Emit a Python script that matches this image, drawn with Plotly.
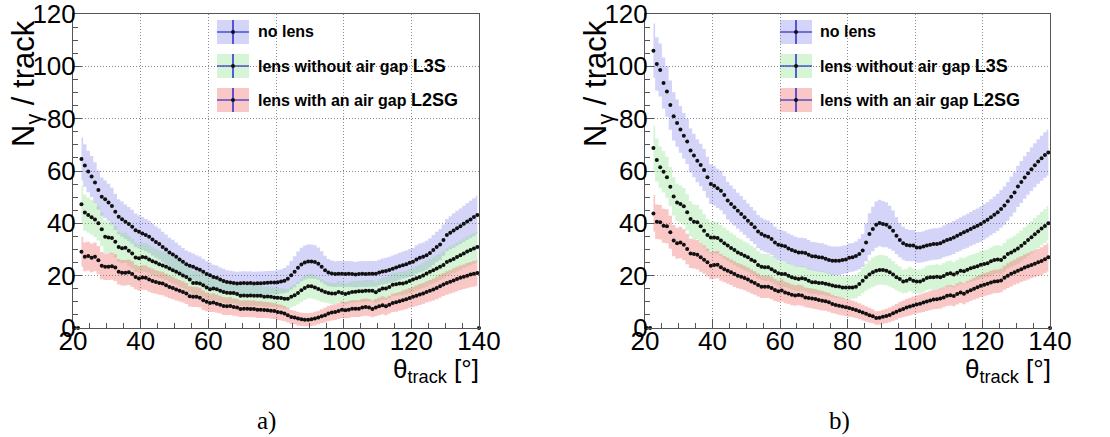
import plotly.graph_objects as go

W, H = 1110, 437

# Bin centres (1 degree bins) of the polar-angle scan
THETA = [22.5 + i for i in range(118)]

# Empty edge bins drawn at N = 0
EDGE_THETA = [20.5, 21.5, 140.0]
EDGE_N = [0, 0, 0]

# ---- panel a) photon yield per track and band half-width ----
a_no_lens = [
    64.6, 62.1, 59.8, 57.9, 55.6, 52.7, 50.2, 49.2, 48.0, 46.6,
    44.4, 42.5, 41.6, 40.6, 39.7, 38.7, 37.4, 36.8, 36.1, 35.5,
    34.9, 33.8, 32.9, 32.1, 31.0, 30.0, 28.9, 28.1, 27.2, 26.2,
    25.3, 24.4, 23.8, 23.4, 22.7, 22.3, 21.5, 20.6, 20.2, 19.5,
    19.2, 18.5, 18.0, 17.6, 17.4, 17.2, 17.0, 17.1, 17.2, 17.1,
    17.2, 17.0, 17.1, 17.1, 17.2, 17.3, 17.4, 17.4, 17.5, 17.8,
    18.1, 18.8, 20.2, 21.5, 23.0, 24.3, 25.0, 25.4, 25.4, 25.2,
    24.6, 23.4, 22.1, 21.2, 20.8, 20.6, 20.7, 20.7, 20.6, 20.7,
    20.6, 20.4, 20.6, 20.7, 20.6, 20.7, 20.7, 20.7, 21.2, 21.6,
    21.8, 22.2, 22.6, 23.1, 23.6, 24.0, 24.4, 24.9, 25.3, 26.2,
    26.8, 27.2, 27.8, 28.7, 29.8, 31.0, 31.9, 33.6, 35.5, 36.4,
    37.3, 38.1, 38.9, 39.8, 40.7, 41.5, 42.4, 43.2,
]
a_no_lens_err = [
    8.2, 8.1, 7.9, 7.8, 7.7, 7.5, 7.3, 7.2, 7.1, 7.0,
    6.9, 6.7, 6.7, 6.6, 6.5, 6.5, 6.4, 6.3, 6.3, 6.2,
    6.2, 6.1, 6.0, 5.9, 5.8, 5.7, 5.6, 5.6, 5.5, 5.4,
    5.3, 5.2, 5.2, 5.1, 5.1, 5.0, 4.9, 4.9, 4.8, 4.7,
    4.7, 4.6, 4.6, 4.5, 4.5, 4.5, 4.5, 4.5, 4.5, 4.5,
    4.5, 4.5, 4.5, 4.5, 4.5, 4.5, 4.5, 4.5, 4.6, 4.6,
    4.8, 5.1, 5.5, 5.9, 6.2, 6.4, 6.5, 6.5, 6.5, 6.4,
    6.2, 5.9, 5.5, 5.2, 5.0, 4.9, 4.9, 4.9, 4.9, 4.9,
    4.9, 4.8, 4.9, 4.9, 4.9, 4.9, 4.9, 4.9, 4.9, 5.0,
    5.0, 5.0, 5.1, 5.1, 5.2, 5.2, 5.2, 5.3, 5.3, 5.4,
    5.5, 5.5, 5.5, 5.6, 5.7, 5.8, 5.9, 6.0, 6.2, 6.3,
    6.6, 6.7, 6.8, 6.9, 7.0, 7.1, 7.2, 7.3,
]
a_l3s = [
    47.3, 44.1, 43.2, 42.3, 41.5, 40.0, 37.7, 34.9, 34.6, 34.4,
    33.0, 31.0, 30.5, 30.7, 29.5, 28.5, 26.9, 26.7, 27.1, 26.9,
    26.2, 25.5, 25.0, 24.4, 23.9, 23.4, 22.7, 22.1, 21.5, 20.8,
    20.1, 19.5, 18.5, 17.2, 17.2, 17.0, 16.3, 15.5, 14.8, 15.1,
    14.8, 14.2, 13.8, 13.5, 13.4, 13.4, 13.0, 12.3, 12.4, 12.3,
    12.4, 12.3, 12.3, 12.3, 11.9, 12.0, 11.9, 11.7, 11.6, 11.5,
    11.2, 11.2, 11.9, 12.5, 13.4, 14.4, 15.3, 16.0, 16.0, 15.5,
    14.9, 14.3, 13.8, 13.4, 13.2, 13.2, 13.8, 13.4, 13.0, 13.4,
    13.8, 13.9, 14.0, 14.0, 14.2, 14.2, 14.2, 13.7, 14.4, 15.1,
    15.1, 15.7, 16.5, 16.7, 17.0, 17.0, 17.4, 18.0, 18.5, 19.0,
    19.5, 20.1, 20.8, 21.5, 22.1, 22.7, 23.4, 24.1, 25.2, 25.8,
    26.4, 27.1, 27.8, 28.5, 29.2, 29.8, 30.4, 31.0,
]
a_l3s_err = [
    7.1, 6.9, 6.8, 6.7, 6.7, 6.6, 6.4, 6.2, 6.1, 6.1,
    6.0, 5.8, 5.8, 5.8, 5.7, 5.6, 5.5, 5.4, 5.5, 5.5,
    5.4, 5.3, 5.3, 5.2, 5.2, 5.1, 5.1, 5.0, 4.9, 4.9,
    4.8, 4.7, 4.6, 4.5, 4.5, 4.5, 4.4, 4.3, 4.2, 4.3,
    4.2, 4.1, 4.1, 4.1, 4.0, 4.0, 4.0, 3.9, 3.9, 3.9,
    3.9, 3.9, 3.9, 3.9, 3.9, 3.9, 3.9, 3.8, 3.8, 3.8,
    3.8, 3.8, 4.0, 4.1, 4.3, 4.5, 4.6, 4.7, 4.7, 4.6,
    4.4, 4.3, 4.1, 4.0, 4.0, 4.0, 4.1, 4.0, 4.0, 4.0,
    4.1, 4.1, 4.1, 4.1, 4.1, 4.1, 4.1, 4.1, 4.2, 4.3,
    4.3, 4.3, 4.4, 4.4, 4.5, 4.5, 4.5, 4.6, 4.6, 4.7,
    4.7, 4.8, 4.9, 4.9, 5.0, 5.1, 5.1, 5.2, 5.3, 5.4,
    5.4, 5.5, 5.6, 5.6, 5.7, 5.8, 5.8, 5.9,
]
a_l2sg = [
    29.1, 27.2, 27.5, 26.8, 27.2, 25.9, 23.8, 23.4, 23.4, 23.6,
    23.1, 21.5, 21.1, 21.1, 21.3, 20.6, 19.5, 18.9, 19.3, 19.2,
    18.5, 18.0, 17.6, 17.2, 17.0, 16.3, 15.7, 15.3, 14.7, 14.2,
    13.8, 13.2, 12.1, 11.9, 11.9, 11.6, 10.6, 10.0, 9.6, 9.7,
    9.3, 8.9, 8.4, 8.3, 8.4, 8.0, 7.8, 7.3, 7.4, 7.4,
    7.3, 7.3, 7.0, 7.0, 6.9, 6.8, 6.6, 6.5, 6.1, 5.9,
    5.5, 4.9, 4.2, 4.0, 3.6, 3.3, 3.2, 3.2, 3.3, 3.6,
    4.0, 4.5, 4.9, 5.5, 5.9, 6.1, 6.5, 7.0, 6.8, 7.0,
    7.4, 7.4, 7.4, 7.8, 8.0, 7.8, 7.3, 7.8, 8.3, 8.7,
    8.3, 8.9, 9.6, 9.8, 10.2, 10.6, 11.0, 11.5, 11.9, 12.3,
    12.8, 13.2, 13.8, 14.2, 14.7, 15.3, 16.0, 16.6, 17.2, 17.7,
    18.2, 18.7, 19.2, 19.6, 20.0, 20.4, 20.7, 21.0,
]
a_l2sg_err = [
    5.7, 5.5, 5.5, 5.5, 5.5, 5.4, 5.2, 5.1, 5.1, 5.2,
    5.1, 4.9, 4.9, 4.9, 4.9, 4.9, 4.7, 4.7, 4.7, 4.7,
    4.6, 4.6, 4.5, 4.5, 4.5, 4.4, 4.3, 4.3, 4.2, 4.1,
    4.1, 4.0, 3.9, 3.9, 3.9, 3.8, 3.7, 3.6, 3.5, 3.6,
    3.5, 3.4, 3.4, 3.4, 3.4, 3.3, 3.3, 3.2, 3.2, 3.2,
    3.2, 3.2, 3.2, 3.2, 3.1, 3.1, 3.1, 3.1, 3.0, 3.0,
    2.9, 2.8, 2.7, 2.6, 2.6, 2.5, 2.5, 2.5, 2.5, 2.6,
    2.6, 2.7, 2.8, 2.9, 3.0, 3.0, 3.1, 3.2, 3.1, 3.2,
    3.2, 3.2, 3.2, 3.3, 3.3, 3.3, 3.2, 3.3, 3.4, 3.4,
    3.4, 3.4, 3.5, 3.6, 3.6, 3.7, 3.7, 3.8, 3.9, 3.9,
    4.0, 4.0, 4.1, 4.1, 4.2, 4.3, 4.4, 4.4, 4.5, 4.5,
    4.6, 4.7, 4.7, 4.7, 4.8, 4.8, 4.9, 4.9,
]

# ---- panel b) ----
b_no_lens = [
    106.0, 100.9, 98.6, 93.6, 90.4, 85.2, 80.9, 78.3, 75.9, 73.5,
    71.3, 67.8, 65.9, 63.9, 62.3, 60.4, 57.6, 55.0, 54.4, 53.4,
    52.5, 50.8, 48.7, 47.4, 46.1, 44.8, 43.6, 42.3, 41.0, 39.7,
    38.5, 36.9, 35.9, 35.3, 34.9, 34.0, 32.7, 31.8, 31.5, 31.2,
    30.4, 29.8, 29.3, 28.9, 28.9, 28.7, 28.0, 27.4, 27.3, 27.0,
    26.9, 26.5, 26.0, 25.7, 25.7, 25.7, 26.0, 26.2, 26.8, 27.0,
    27.5, 28.3, 29.6, 32.7, 35.9, 37.8, 39.5, 40.1, 39.7, 39.5,
    38.5, 37.2, 35.3, 33.6, 32.4, 31.7, 31.5, 31.5, 30.8, 30.8,
    31.1, 31.5, 31.8, 32.1, 32.1, 32.4, 33.1, 33.6, 34.0, 34.6,
    35.3, 35.9, 36.6, 37.2, 37.8, 38.5, 39.1, 39.7, 40.6, 41.4,
    42.3, 43.3, 44.2, 45.5, 46.8, 48.4, 50.2, 51.8, 54.1, 55.8,
    57.5, 59.1, 60.7, 62.2, 63.6, 64.9, 66.1, 67.1,
]
b_no_lens_err = [
    10.4, 10.2, 10.1, 9.8, 9.7, 9.4, 9.2, 9.0, 8.9, 8.7,
    8.6, 8.4, 8.3, 8.2, 8.1, 8.0, 7.8, 7.6, 7.6, 7.5,
    7.5, 7.3, 7.2, 7.1, 7.0, 6.9, 6.8, 6.7, 6.6, 6.5,
    6.4, 6.3, 6.2, 6.2, 6.2, 6.1, 6.0, 5.9, 5.9, 5.8,
    5.8, 5.7, 5.7, 5.6, 5.6, 5.6, 5.6, 5.5, 5.5, 5.5,
    5.5, 5.4, 5.4, 5.4, 5.4, 5.4, 5.4, 5.4, 5.5, 5.5,
    5.6, 5.8, 6.3, 7.2, 8.0, 8.5, 8.8, 8.9, 8.8, 8.6,
    8.2, 7.7, 7.1, 6.6, 6.3, 6.1, 6.0, 6.0, 5.9, 5.9,
    5.9, 6.0, 6.0, 6.0, 6.0, 6.0, 6.1, 6.2, 6.2, 6.3,
    6.3, 6.4, 6.4, 6.5, 6.5, 6.6, 6.6, 6.7, 6.8, 6.8,
    6.9, 7.0, 7.1, 7.2, 7.3, 7.4, 7.6, 7.7, 7.9, 8.0,
    8.1, 8.2, 8.3, 8.4, 8.5, 8.6, 8.7, 8.8,
]
b_l3s = [
    68.8, 64.2, 61.4, 59.7, 57.6, 54.0, 50.3, 48.0, 47.4, 46.5,
    44.2, 41.7, 40.6, 40.4, 38.9, 37.2, 35.5, 34.6, 34.6, 34.4,
    33.4, 32.4, 31.5, 30.6, 29.8, 28.9, 28.3, 27.6, 27.0, 26.1,
    25.5, 24.1, 23.4, 23.2, 23.2, 22.5, 21.7, 20.9, 20.6, 20.6,
    20.0, 19.4, 19.0, 18.7, 19.0, 18.7, 18.1, 17.5, 17.5, 17.2,
    17.2, 16.9, 16.6, 16.2, 16.0, 15.9, 15.5, 15.5, 15.5, 15.5,
    15.8, 16.8, 18.1, 19.4, 20.4, 21.3, 21.9, 22.2, 22.2, 21.9,
    21.3, 20.4, 19.4, 18.7, 17.8, 18.1, 18.7, 18.1, 17.8, 17.8,
    18.3, 19.1, 19.4, 19.4, 19.6, 19.4, 19.9, 20.6, 20.9, 20.4,
    21.1, 21.9, 21.7, 22.3, 22.8, 23.2, 23.6, 24.2, 24.5, 24.7,
    25.5, 26.0, 26.2, 26.0, 27.0, 28.3, 28.9, 29.6, 30.4, 31.4,
    32.5, 33.6, 34.7, 35.8, 36.9, 38.0, 39.0, 40.0,
]
b_l3s_err = [
    8.5, 8.2, 8.0, 7.9, 7.8, 7.5, 7.3, 7.1, 7.1, 7.0,
    6.9, 6.7, 6.6, 6.6, 6.5, 6.3, 6.2, 6.1, 6.1, 6.1,
    6.0, 6.0, 5.9, 5.8, 5.7, 5.6, 5.6, 5.5, 5.5, 5.4,
    5.3, 5.2, 5.1, 5.1, 5.1, 5.0, 5.0, 4.9, 4.9, 4.9,
    4.8, 4.7, 4.7, 4.7, 4.7, 4.7, 4.6, 4.5, 4.5, 4.5,
    4.5, 4.5, 4.4, 4.4, 4.4, 4.3, 4.3, 4.3, 4.3, 4.3,
    4.4, 4.6, 4.9, 5.2, 5.4, 5.6, 5.7, 5.7, 5.7, 5.6,
    5.4, 5.2, 5.0, 4.8, 4.6, 4.6, 4.7, 4.6, 4.6, 4.6,
    4.6, 4.7, 4.7, 4.7, 4.8, 4.7, 4.8, 4.9, 4.9, 4.8,
    4.9, 5.0, 5.0, 5.0, 5.1, 5.1, 5.2, 5.2, 5.2, 5.3,
    5.3, 5.4, 5.4, 5.4, 5.5, 5.6, 5.6, 5.7, 5.8, 5.9,
    6.0, 6.0, 6.1, 6.2, 6.3, 6.4, 6.5, 6.6,
]
b_l2sg = [
    43.8, 40.6, 40.4, 39.1, 38.9, 36.6, 33.4, 32.4, 32.7, 31.8,
    30.2, 28.5, 28.3, 28.0, 27.0, 26.1, 25.1, 23.8, 24.1, 24.2,
    23.2, 22.5, 21.9, 21.3, 20.6, 20.0, 19.6, 19.1, 18.5, 17.8,
    17.2, 16.4, 15.8, 15.8, 15.8, 15.3, 14.5, 14.0, 14.3, 13.6,
    13.2, 12.7, 12.4, 12.6, 12.4, 11.7, 11.5, 11.3, 11.1, 10.7,
    10.4, 10.2, 9.8, 9.2, 8.8, 8.5, 8.2, 7.9, 7.6, 7.3,
    6.9, 6.4, 5.9, 5.4, 4.9, 4.5, 3.8, 3.9, 4.3, 4.6,
    5.0, 5.6, 6.2, 6.8, 7.3, 7.8, 8.2, 8.6, 9.0, 9.3,
    9.7, 10.1, 10.5, 10.9, 11.0, 11.3, 11.7, 12.3, 12.5, 12.2,
    13.0, 13.6, 13.1, 13.9, 14.4, 15.0, 15.6, 16.1, 16.5, 16.9,
    17.4, 17.8, 17.9, 18.2, 19.2, 20.0, 20.7, 21.3, 21.9, 22.5,
    23.1, 23.6, 24.1, 24.6, 25.1, 25.6, 26.3, 27.0,
]
b_l2sg_err = [
    6.9, 6.6, 6.6, 6.5, 6.5, 6.3, 6.0, 5.9, 6.0, 5.9,
    5.8, 5.6, 5.6, 5.6, 5.5, 5.4, 5.3, 5.2, 5.2, 5.2,
    5.1, 5.0, 5.0, 4.9, 4.9, 4.8, 4.8, 4.7, 4.6, 4.6,
    4.5, 4.4, 4.3, 4.3, 4.3, 4.3, 4.2, 4.1, 4.2, 4.1,
    4.0, 4.0, 3.9, 3.9, 3.9, 3.8, 3.8, 3.8, 3.8, 3.7,
    3.7, 3.6, 3.6, 3.5, 3.4, 3.4, 3.4, 3.3, 3.3, 3.2,
    3.1, 3.1, 3.0, 2.9, 2.8, 2.7, 2.6, 2.6, 2.7, 2.8,
    2.8, 2.9, 3.0, 3.1, 3.2, 3.3, 3.4, 3.4, 3.5, 3.5,
    3.6, 3.6, 3.7, 3.7, 3.7, 3.8, 3.8, 3.9, 3.9, 3.9,
    4.0, 4.0, 4.0, 4.1, 4.1, 4.2, 4.3, 4.3, 4.4, 4.4,
    4.5, 4.5, 4.5, 4.5, 4.6, 4.7, 4.8, 4.8, 4.9, 4.9,
    5.0, 5.1, 5.1, 5.2, 5.2, 5.3, 5.4, 5.4,
]

LEGEND_LABELS = [
    "no lens",
    "lens without air gap",
    "lens with an air gap",
]
LEGEND_TAGS = ["", "L3S", "L2SG"]
BAND_FILLS = [
    "rgba(120,120,235,0.32)",
    "rgba(120,220,120,0.30)",
    "rgba(240,100,100,0.36)",
]
CROSS_COLOR = "#2a2ac8"
DOT_COLOR = "#111111"
TICK_FONT = "Liberation Sans"


def px(x):
    return x / W


def py(y):
    return 1 - y / H


fig = go.Figure()

panels = [
    ("x", "y", [(a_no_lens, a_no_lens_err), (a_l3s, a_l3s_err), (a_l2sg, a_l2sg_err)]),
    ("x2", "y2", [(b_no_lens, b_no_lens_err), (b_l3s, b_l3s_err), (b_l2sg, b_l2sg_err)]),
]

for xa, ya, series in panels:
    # uncertainty bands, one box per bin
    for (vals, errs), fill in zip(series, BAND_FILLS):
        lo = [v - e for v, e in zip(vals, errs)]
        hi = [v + e for v, e in zip(vals, errs)]
        fig.add_trace(go.Scatter(
            x=THETA, y=lo, xaxis=xa, yaxis=ya, mode="lines",
            line=dict(width=0, shape="hvh"), hoverinfo="skip", showlegend=False,
        ))
        fig.add_trace(go.Scatter(
            x=THETA, y=hi, xaxis=xa, yaxis=ya, mode="lines",
            line=dict(width=0, shape="hvh"), fill="tonexty", fillcolor=fill,
            hoverinfo="skip", showlegend=False,
        ))
    # mean photon yield per bin
    for vals, _ in series:
        fig.add_trace(go.Scatter(
            x=THETA, y=vals, xaxis=xa, yaxis=ya, mode="markers",
            marker=dict(size=4, color=DOT_COLOR), showlegend=False,
        ))
    fig.add_trace(go.Scatter(
        x=EDGE_THETA, y=EDGE_N, xaxis=xa, yaxis=ya, mode="markers",
        marker=dict(size=4, color=DOT_COLOR), cliponaxis=False, showlegend=False,
    ))

axis_style = dict(
    automargin=False,
    showline=True, mirror=True, linecolor="#555555", linewidth=1,
    ticks="inside", ticklen=9, tickwidth=1, tickcolor="#555555",
    showgrid=True, gridcolor="#8a8a8a", griddash="1px,2px", gridwidth=1,
    zeroline=False, ticklabeloverflow="allow",
    tickfont=dict(family=TICK_FONT, size=26, color="black"),
    minor=dict(ticks="inside", ticklen=5, dtick=5, tickcolor="#555555",
               tickwidth=1, showgrid=False),
)

XDOM_A = [px(73), px(479)]
XDOM_B = [px(645), px(1050)]
YDOM = [py(328), py(14)]

x_style = dict(range=[20, 140], tick0=20, dtick=20, ticklabelstandoff=-10, **axis_style)
y_style = dict(domain=YDOM, range=[0, 120], tick0=0, dtick=20, ticklabelstandoff=-9, **axis_style)

fig.update_layout(
    width=W, height=H,
    margin=dict(l=0, r=0, t=0, b=0, autoexpand=False),
    paper_bgcolor="white", plot_bgcolor="white",
    showlegend=False,
    xaxis=dict(domain=XDOM_A, anchor="y", **x_style),
    yaxis=dict(anchor="x", **y_style),
    xaxis2=dict(domain=XDOM_B, anchor="y2", **x_style),
    yaxis2=dict(anchor="x2", **y_style),
)

shapes = []
annotations = []

for off, swatch_x0, text_x, label, label_x in [
    (0, 217, 256, "a)", 266),
    (572, 780, 818, "b)", 839),
]:
    # axis titles
    annotations.append(dict(
        x=px(26 + off), y=py(84), xref="paper", yref="paper",
        text="N<sub>γ</sub> / track", textangle=-90, showarrow=False,
        font=dict(family=TICK_FONT, size=31, color="black"),
        xanchor="center", yanchor="middle",
    ))
    annotations.append(dict(
        x=px(481 + off), y=py(370), xref="paper", yref="paper",
        text="θ<sub>track</sub> [°]", showarrow=False,
        font=dict(family=TICK_FONT, size=26, color="black"),
        xanchor="right", yanchor="middle",
    ))
    annotations.append(dict(
        x=px(label_x), y=py(421), xref="paper", yref="paper",
        text=label, showarrow=False,
        font=dict(family="Liberation Serif", size=25, color="black"),
        xanchor="center", yanchor="middle",
    ))
    # legend entries
    for i, (name, tag, fill) in enumerate(zip(LEGEND_LABELS, LEGEND_TAGS, BAND_FILLS)):
        yc = 32 + 34 * i
        x0, x1 = swatch_x0, swatch_x0 + 32
        xc = (x0 + x1) / 2
        shapes.append(dict(type="rect", xref="paper", yref="paper",
                           x0=px(x0), x1=px(x1), y0=py(yc - 12), y1=py(yc + 12),
                           fillcolor=fill, line=dict(width=0)))
        shapes.append(dict(type="line", xref="paper", yref="paper",
                           x0=px(xc), x1=px(xc), y0=py(yc - 12), y1=py(yc + 12),
                           line=dict(color=CROSS_COLOR, width=1.5)))
        shapes.append(dict(type="line", xref="paper", yref="paper",
                           x0=px(x0), x1=px(x1), y0=py(yc), y1=py(yc),
                           line=dict(color=CROSS_COLOR, width=1.2)))
        shapes.append(dict(type="circle", xref="paper", yref="paper",
                           x0=px(xc - 2), x1=px(xc + 2), y0=py(yc - 2), y1=py(yc + 2),
                           fillcolor=DOT_COLOR, line=dict(width=0)))
        text = "<b>" + name + "</b>"
        if tag:
            text += " <b><span style='font-size:18px'>" + tag + "</span></b>"
        annotations.append(dict(
            x=px(text_x), y=py(yc), xref="paper", yref="paper",
            text=text, showarrow=False,
            font=dict(family=TICK_FONT, size=16, color="black"),
            xanchor="left", yanchor="middle",
        ))

fig.update_layout(shapes=shapes, annotations=annotations)

fig.write_html("out.html")
